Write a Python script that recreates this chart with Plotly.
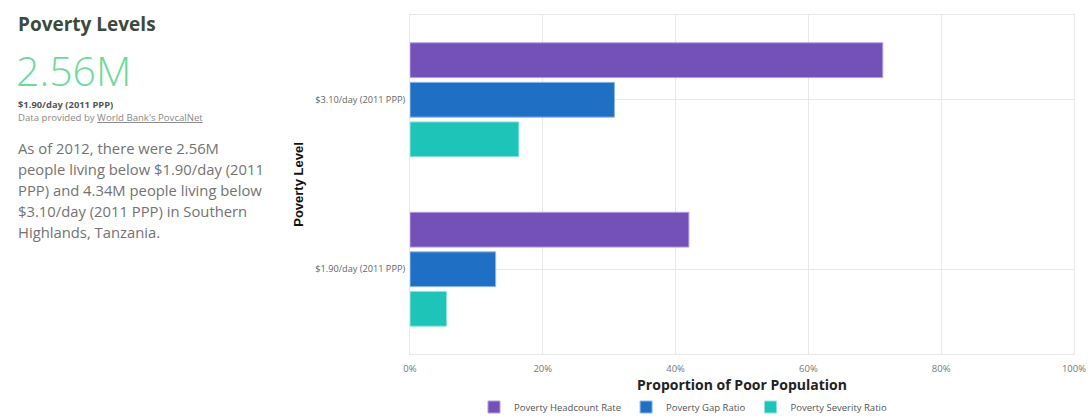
import plotly.graph_objects as go

categories = ["$3.10/day (2011 PPP)", "$1.90/day (2011 PPP)"]
headcount = [71.2, 42.0]
gap_ratio = [30.8, 12.9]
severity = [16.4, 5.5]
series_names = ["Poverty Headcount Rate", "Poverty Gap Ratio", "Poverty Severity Ratio"]
tick_vals = [0, 20, 40, 60, 80, 100]
tick_text = ["0%", "20%", "40%", "60%", "80%", "100%"]

W, H = 1092, 420
ML, MR, MT, MB = 410, 18, 15, 66
PW, PH = W - ML - MR, H - MT - MB


def px(x):
    return (x - ML) / PW


def py(y):
    return 1 - (y - MT) / PH


colors = ["#7451b8", "#1f6fc5", "#1fc4b9"]
lines = ["#b49de0", "#8fb8e6", "#8fe3dc"]

fig = go.Figure()
for name, vals, c, lc in zip(series_names, [headcount, gap_ratio, severity], colors, lines):
    fig.add_trace(go.Bar(
        y=categories, x=vals, name=name, orientation="h",
        marker=dict(color=c, line=dict(color=lc, width=1)),
    ))

ann = []
ann.append(dict(text="<b>Poverty Levels</b>", x=px(16), y=py(24), xanchor="left", yanchor="middle",
                font=dict(family="Open Sans", size=19, color="#3b4a3c")))
ann.append(dict(text="2.56M", x=px(14), y=py(70), xanchor="left", yanchor="middle",
                font=dict(family="Open Sans", size=41, color="#6fd99a", weight=300)))
ann.append(dict(text="<b>$1.90/day (2011 PPP)</b>", x=px(16), y=py(104), xanchor="left", yanchor="middle",
                font=dict(family="Open Sans", size=9.4, color="#555555")))
ann.append(dict(text="Data provided by <u>World Bank's PovcalNet</u>", x=px(16), y=py(117), xanchor="left", yanchor="middle",
                font=dict(family="Open Sans", size=9.6, color="#8a8a8a")))
para = [
    "As of 2012, there were 2.56M",
    "people living below $1.90/day (2011",
    "PPP) and 4.34M people living below",
    "$3.10/day (2011 PPP) in Southern",
    "Highlands, Tanzania.",
]
for i, line in enumerate(para):
    ann.append(dict(text=line, x=px(16), y=py(148 + 21 * i), xanchor="left", yanchor="middle",
                    font=dict(family="Open Sans", size=14.8, color="#737373", weight=400)))
for a in ann:
    a.update(xref="paper", yref="paper", showarrow=False, align="left")

fig.update_layout(
    width=W, height=H,
    margin=dict(l=ML, r=MR, t=MT, b=MB, autoexpand=False),
    paper_bgcolor="white", plot_bgcolor="white",
    barmode="group", bargap=0.3, bargroupgap=0.12,
    annotations=ann,
    xaxis=dict(
        range=[0, 100], tickvals=tick_vals, ticktext=tick_text,
        showgrid=True, gridcolor="#e8e8e8", gridwidth=1,
        showline=True, linecolor="#e8e8e8", mirror=True, zeroline=False,
        tickfont=dict(family="Open Sans", size=9.5, color="#777777"),
        ticklabelstandoff=6,
        title=dict(text="<b>Proportion of Poor Population</b>", standoff=0,
                   font=dict(family="Open Sans", size=14, color="#222222")),
        automargin=False, fixedrange=True,
    ),
    yaxis=dict(
        categoryorder="array", categoryarray=categories, autorange="reversed",
        showgrid=True, gridcolor="#e8e8e8",
        showline=True, linecolor="#e8e8e8", mirror=True,
        tickfont=dict(family="Open Sans", size=9.2, color="#666666"),
        ticks="", ticklen=0, ticklabelstandoff=2,
        title=dict(text="<b>Poverty Level</b>", standoff=8,
                   font=dict(family="Liberation Sans", size=13, color="#111111")),
        automargin=False, fixedrange=True,
    ),
    legend=dict(orientation="h", x=px(474), y=py(407), xanchor="left", yanchor="middle",
                font=dict(family="Open Sans", size=9.5, color="#555555"),
                traceorder="normal", itemclick=False),
    showlegend=True,
)

fig.write_html("out.html", config={"displayModeBar": False})
